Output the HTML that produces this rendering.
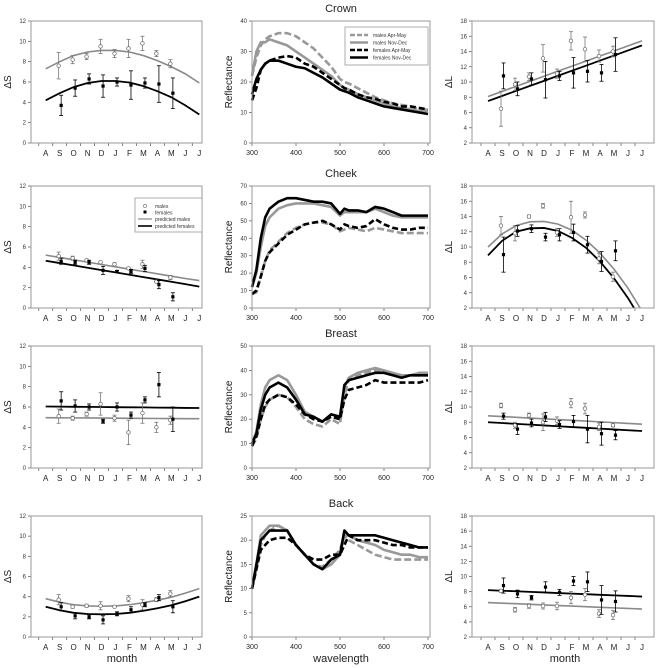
<!DOCTYPE html>
<html><head><meta charset="utf-8"><style>
html,body{margin:0;padding:0;background:#fff;}
svg{display:block;font-family:"Liberation Sans",sans-serif;}
</style></head><body>
<svg id="fig" width="661" height="669" viewBox="0 0 661 669" xmlns="http://www.w3.org/2000/svg"></svg>
<script>
const months = ["A","S","O","N","D","J","F","M","A","M","J","J"];
const obsIdx = [1,2,3,4,5,6,7,8,9];
const wl = [300,310,320,330,340,360,380,400,420,440,460,480,500,510,520,540,560,580,600,620,640,660,680,700];

// Delta S panels (left column)
const crownSMale = [7.6,8.2,8.5,9.5,8.8,9.3,9.8,8.8,7.8];
const crownSMaleErr = [1.3,0.4,0.3,0.7,0.4,0.9,0.7,0.3,0.4];
const crownSFem = [3.7,5.4,6.3,5.6,6.0,5.7,5.9,5.8,4.9];
const crownSFemErr = [1.0,0.8,0.5,1.1,0.4,1.4,0.5,1.8,1.5];
const crownSMaleFit = [7.3,8.0,8.6,8.95,9.1,9.1,8.95,8.6,8.1,7.5,6.8,5.9];
const crownSFemFit = [4.2,4.9,5.5,5.9,6.1,6.1,5.95,5.6,5.1,4.5,3.7,2.8];

const cheekSMale = [5.1,4.9,4.7,4.5,4.3,3.9,4.3,2.6,3.0];
const cheekSMaleErr = [0.4,0.2,0.1,0.1,0.15,0.1,0.4,0.1,0.2];
const cheekSFem = [4.6,4.5,4.5,3.7,3.6,3.6,3.9,2.3,1.1];
const cheekSFemErr = [0.3,0.2,0.2,0.4,0.1,0.2,0.3,0.4,0.4];
const cheekSMaleFit = [5.2,4.97,4.74,4.51,4.28,4.05,3.82,3.59,3.36,3.13,2.9,2.7];
const cheekSFemFit = [4.65,4.42,4.19,3.96,3.73,3.5,3.27,3.04,2.81,2.58,2.35,2.1];

const breastSMale = [5.1,4.9,5.3,6.3,4.9,3.5,5.4,4.0,4.7];
const breastSMaleErr = [0.7,0.2,0.2,1.1,0.3,1.2,1.0,0.5,0.4];
const breastSFem = [6.6,6.1,6.0,4.6,6.0,5.2,6.7,8.2,4.8];
const breastSFemErr = [0.9,0.6,0.3,0.2,0.4,0.3,0.3,1.2,1.2];
const breastSMaleFit = [4.95,4.94,4.93,4.92,4.91,4.9,4.89,4.88,4.87,4.86,4.85,4.85];
const breastSFemFit = [6.05,6.04,6.02,6.01,6.0,5.98,5.97,5.96,5.94,5.93,5.91,5.9];

const backSMale = [3.7,3.0,3.1,3.1,3.0,3.8,3.2,3.7,4.3];
const backSMaleErr = [0.5,0.15,0.15,0.4,0.1,0.3,0.5,0.2,0.3];
const backSFem = [3.0,2.1,2.0,1.7,2.3,2.7,3.2,3.9,3.0];
const backSFemErr = [0.4,0.3,0.2,0.4,0.2,0.3,0.2,0.3,0.6];
const backSMaleFit = [3.8,3.45,3.2,3.08,3.05,3.08,3.2,3.4,3.65,3.95,4.35,4.8];
const backSFemFit = [3.0,2.65,2.4,2.28,2.25,2.28,2.4,2.6,2.85,3.15,3.55,4.0];

// Delta L panels (right column)
const crownLMale = [6.5,9.7,10.7,13.1,11.1,15.4,14.3,13.4,14.0];
const crownLMaleErr = [2.3,0.8,0.5,1.8,0.6,1.2,1.6,0.8,0.7];
const crownLFem = [10.8,9.1,10.4,10.3,10.8,11.2,11.4,11.2,13.6];
const crownLFemErr = [1.7,0.9,0.8,2.4,0.6,2.0,1.4,1.1,2.2];
const crownLMaleFit = [8.1,8.76,9.43,10.09,10.75,11.42,12.08,12.74,13.41,14.07,14.74,15.4];
const crownLFemFit = [7.5,8.16,8.83,9.49,10.15,10.82,11.48,12.14,12.81,13.47,14.14,14.8];

const cheekLMale = [12.8,11.8,14.0,15.4,11.9,13.9,14.2,8.5,6.1];
const cheekLMaleErr = [1.2,1.0,0.2,0.3,0.5,2.1,0.4,0.7,0.6];
const cheekLFem = [9.0,12.1,12.4,11.3,11.6,11.9,10.3,8.1,9.5];
const cheekLFemErr = [2.3,0.7,0.5,0.5,0.8,1.1,1.1,1.3,1.3];
const cheekLMaleFit = [10.0,11.7,12.8,13.3,13.35,13.0,12.2,10.9,9.2,7.1,4.6,1.6];
const cheekLFemFit = [8.9,10.8,12.0,12.45,12.5,12.1,11.2,9.9,8.1,5.9,3.3,0.3];

const breastLMale = [10.2,7.6,8.9,8.0,8.2,10.5,9.8,7.4,7.6];
const breastLMaleErr = [0.3,0.4,0.3,1.1,0.5,0.6,0.7,0.5,0.2];
const breastLFem = [8.8,7.1,7.9,8.7,7.7,8.1,7.1,6.5,6.3];
const breastLFemErr = [0.4,0.7,0.5,0.6,0.5,0.8,1.8,1.5,0.6];
const breastLMaleFit = [8.85,8.75,8.65,8.55,8.45,8.35,8.25,8.15,8.05,7.95,7.85,7.75];
const breastLFemFit = [8.0,7.9,7.79,7.69,7.58,7.48,7.37,7.27,7.16,7.06,6.95,6.85];

const backLMale = [8.1,5.6,6.1,6.1,6.1,7.2,7.6,5.1,4.9];
const backLMaleErr = [0.2,0.3,0.3,0.4,0.5,0.8,0.8,0.5,0.6];
const backLFem = [8.8,7.7,7.2,8.6,7.9,9.4,9.3,6.9,6.7];
const backLFemErr = [1.0,0.5,0.3,0.7,0.4,0.6,1.3,1.9,1.4];
const backLMaleFit = [6.55,6.47,6.4,6.32,6.24,6.16,6.09,6.01,5.93,5.85,5.78,5.7];
const backLFemFit = [8.2,8.12,8.05,7.97,7.89,7.81,7.74,7.66,7.58,7.5,7.43,7.35];

// Reflectance spectra
const crownMA = [22,28,32,34,35,36,36,35,33,31,28,25,21,20,19.5,18,16.5,15,14,13,12.5,12,11,11];
const crownMN = [22,30,33,33,34,33,32,30,28,26,24,22,19,18,17.5,16,15,14,13,12,11.5,11,10.5,10.5];
const crownFA = [14,18,24,26,27,28,28.5,28,26,25,23,21,19,18,17.5,16,15,14.5,13.5,13,12,12,11.5,11];
const crownFN = [16,21,24,26,27,27,26,25,24.5,23,21.5,19.5,17.5,17,16.5,15,14,13,12,11.5,11,10.5,10,9.5];

const cheekMA = [8,9,18,27,33,38,43,46,48,49,49,48,44,45,46,45,44,46,45,44,43,43,43,43];
const cheekMN = [12,20,35,47,52,57,59,60,60,60,59,58,53,55,55,55,55,57,55,53,52,52,52,52];
const cheekFA = [8,10,18,27,32,37,42,45,48,49,50,48,45,48,47,46,47,51,48,46,45,45,46,46];
const cheekFN = [12,22,40,52,57,61,63,63,62,61,61,60,54,57,56,56,55,58,57,55,53,53,53,53];

const breastMA = [9,12,20,25,28,30,29,25,20,18,17,20,18,30,36,38,39,40,39,38,38,38,38,38];
const breastMN = [10,15,26,33,36,38,36,30,23,21,19,22,21,33,37,39,40,41,40,39,38,38,39,39];
const breastFA = [9,13,20,26,28,30,29,26,22,20,19,21,20,28,32,33,34,36,35,35,35,35,35,36];
const breastFN = [10,14,24,30,33,35,33,28,22,21,19,22,21,34,36,37,38,39,39,38,37,38,38,38];

const backMA = [10,14,19,21,22,23,22,19,17,15,14.5,16,18,21,20,19,18,17,16.5,16,16,16,16,16];
const backMN = [10,15,21,22,23,23,22,19,17,15,14,15,17,21,21,20,19.5,19,18,17.5,17,17,16.5,16.5];
const backFA = [10,14,18,19,20,20.5,20.5,19,17,16,16,17,17,19,21,20,20,20,19.5,19,19,18.5,18.5,18.5];
const backFN = [10,15,20,21,22,22,22,19,17,15,14,16,17,22,21,21,21,21,20.5,20,19.5,19,18.5,18.5];

const NS = "http://www.w3.org/2000/svg";
const svg = document.getElementById("fig");
let clipId = 0;
function el(tag, attrs, parent, text){
  const e = document.createElementNS(NS, tag);
  for (const k in attrs) e.setAttribute(k, attrs[k]);
  if (text !== undefined) e.textContent = text;
  (parent || svg).appendChild(e);
  return e;
}

const rows = [{t:21,b:143},{t:186,b:308},{t:346,b:468},{t:516,b:637}];

function frame(g, x0, x1, t, b){
  const r = el("rect", {x:x0, y:t, width:x1-x0, height:b-t, fill:"none", stroke:"#999", "stroke-width":1}, g);
  
  
}

function yTicks(g, x0, t, b, ymin, ymax, step){
  const ys = v => b - (v - ymin) / (ymax - ymin) * (b - t);
  for (let v = ymin; v <= ymax + 1e-9; v += step){
    el("line", {x1:x0-3, x2:x0, y1:ys(v), y2:ys(v), stroke:"#666", "stroke-width":0.8}, g);
    const tx = el("text", {x:x0-5, y:ys(v)+2, "font-size":6, "text-anchor":"end", fill:"#333"}, g, String(v));
    
    
  }
  return ys;
}

function monthPanel(name, x0, x1, mx0, mx1, row, ymin, ymax, step, ylab, male, maleErr, fem, femErr, maleFit, femFit){
  const g = el("g", {});
  
  
  const {t, b} = rows[row];
  const ys = yTicks(g, x0, t, b, ymin, ymax, step);
  const xs = i => mx0 + i * (mx1 - mx0) / 11;
  // x ticks and labels
  for (let i = 0; i < 12; i++){
    el("line", {x1:xs(i)-(mx1-mx0)/22, x2:xs(i)-(mx1-mx0)/22, y1:b, y2:b+3, stroke:"#666", "stroke-width":0.8}, g);
    const tx = el("text", {x:xs(i), y:b+13, "font-size":8, "text-anchor":"middle", fill:"#222"}, g, months[i]);
    
    
  }
  const yl = el("text", {x:0, y:0, "font-size":10, "text-anchor":"middle", fill:"#222",
     transform:`translate(${x0-20},${(t+b)/2}) rotate(-90)`}, g, ylab);
  
  
  const cid = "c" + (clipId++);
  const cp = el("clipPath", {id:cid}, g);
  el("rect", {x:x0, y:t, width:x1-x0, height:b-t}, cp);
  const cg = el("g", {"clip-path":`url(#${cid})`}, g);
  const fitLine = (arr, col, w, nm) => {
    const p = el("polyline", {points: arr.map((v,i)=>`${xs(i)},${ys(v)}`).join(" "), fill:"none", stroke:col, "stroke-width":w}, cg);
    
    
  };
  fitLine(maleFit, "#8a8a8a", 1.6, "predicted-males-line");
  fitLine(femFit, "#000", 1.8, "predicted-females-line");
  const pts = (vals, errs, off, female) => {
    vals.forEach((v, k) => {
      const x = xs(obsIdx[k]) + off, y = ys(v);
      const col = female ? "#000" : "#777";
      const e1 = ys(v + errs[k]), e2 = ys(v - errs[k]);
      el("line", {x1:x, x2:x, y1:e1, y2:e2, stroke:col, "stroke-width":0.8}, g);
      el("line", {x1:x-2, x2:x+2, y1:e1, y2:e1, stroke:col, "stroke-width":0.8}, g);
      el("line", {x1:x-2, x2:x+2, y1:e2, y2:e2, stroke:col, "stroke-width":0.8}, g);
      let m;
      if (female){
        m = el("rect", {x:x-1.6, y:y-1.6, width:3.2, height:3.2, fill:"#000"}, g);
        
      } else {
        m = el("circle", {cx:x, cy:y, r:1.8, fill:"#fff", stroke:"#666", "stroke-width":0.7}, g);
        
      }
      
    });
  };
  pts(male, maleErr, -1, false);
  pts(fem, femErr, 1.5, true);
  frame(g, x0, x1, t, b);
  return g;
}

function specPanel(name, row, ymax, step, series){
  const x0 = 252, x1 = 430;
  const g = el("g", {});
  
  
  const {t, b} = rows[row];
  const ys = yTicks(g, x0, t, b, 0, ymax, step);
  const xs = w => x0 + (w - 300) / 400 * 176;
  [300,400,500,600,700].forEach(w => {
    el("line", {x1:xs(w), x2:xs(w), y1:b, y2:b+3, stroke:"#666", "stroke-width":0.8}, g);
    const tx = el("text", {x:xs(w), y:b+12, "font-size":7, "text-anchor":"middle", fill:"#222"}, g, String(w));
    
    
  });
  const yl = el("text", {x:0, y:0, "font-size":10, "text-anchor":"middle", fill:"#222",
     transform:`translate(${x0-20},${(t+b)/2}) rotate(-90)`}, g, "Reflectance");
  
  
  const styles = [
    {col:"#999", dash:"7,3", nm:"males-apr-may-line"},
    {col:"#999", dash:"", nm:"males-nov-dec-line"},
    {col:"#000", dash:"6,3", nm:"females-apr-may-line"},
    {col:"#000", dash:"", nm:"females-nov-dec-line"}];
  series.forEach((arr, s) => {
    const st = styles[s];
    const p = el("polyline", {points: arr.map((v,i)=>`${xs(wl[i])},${ys(v)}`).join(" "), fill:"none",
      stroke:st.col, "stroke-width":2.6, "stroke-dasharray":st.dash, "stroke-linejoin":"round"}, g);
    
    
  });
  frame(g, x0, x1, t, b);
  return g;
}

monthPanel("crown-delta-s-panel", 31, 202, 45.7, 199.3, 0, 0, 12, 2, "ΔS", crownSMale, crownSMaleErr, crownSFem, crownSFemErr, crownSMaleFit, crownSFemFit);
monthPanel("cheek-delta-s-panel", 31, 202, 45.7, 199.3, 1, 0, 12, 2, "ΔS", cheekSMale, cheekSMaleErr, cheekSFem, cheekSFemErr, cheekSMaleFit, cheekSFemFit);
monthPanel("breast-delta-s-panel", 31, 202, 45.7, 199.3, 2, 0, 12, 2, "ΔS", breastSMale, breastSMaleErr, breastSFem, breastSFemErr, breastSMaleFit, breastSFemFit);
monthPanel("back-delta-s-panel", 31, 202, 45.7, 199.3, 3, 0, 12, 2, "ΔS", backSMale, backSMaleErr, backSFem, backSFemErr, backSMaleFit, backSFemFit);

monthPanel("crown-delta-l-panel", 472, 654, 488, 642, 0, 2, 18, 2, "ΔL", crownLMale, crownLMaleErr, crownLFem, crownLFemErr, crownLMaleFit, crownLFemFit);
monthPanel("cheek-delta-l-panel", 472, 654, 488, 642, 1, 2, 18, 2, "ΔL", cheekLMale, cheekLMaleErr, cheekLFem, cheekLFemErr, cheekLMaleFit, cheekLFemFit);
monthPanel("breast-delta-l-panel", 472, 654, 488, 642, 2, 2, 18, 2, "ΔL", breastLMale, breastLMaleErr, breastLFem, breastLFemErr, breastLMaleFit, breastLFemFit);
monthPanel("back-delta-l-panel", 472, 654, 488, 642, 3, 2, 18, 2, "ΔL", backLMale, backLMaleErr, backLFem, backLFemErr, backLMaleFit, backLFemFit);

specPanel("crown-spectrum-panel", 0, 40, 10, [crownMA, crownMN, crownFA, crownFN]);
specPanel("cheek-spectrum-panel", 1, 70, 10, [cheekMA, cheekMN, cheekFA, cheekFN]);
specPanel("breast-spectrum-panel", 2, 50, 10, [breastMA, breastMN, breastFA, breastFN]);
specPanel("back-spectrum-panel", 3, 25, 5, [backMA, backMN, backFA, backFN]);

// titles
[["Crown",12],["Cheek",177],["Breast",337],["Back",507]].forEach(([txt,y]) => {
  const t = el("text", {x:341, y:y, "font-size":11, "text-anchor":"middle", fill:"#222"}, svg, txt);
  
  
});
[["month",122],["wavelength",341],["month",565]].forEach(([txt,x]) => {
  const t = el("text", {x:x, y:662, "font-size":11, "text-anchor":"middle", fill:"#222"}, svg, txt);
  
  
});

// legend: spectra
const lg1 = el("g", {});


el("rect", {x:345, y:27, width:83, height:38, fill:"#fff", stroke:"#999", "stroke-width":0.8}, lg1);
[["males Apr-May","#999","5,2"],["males Nov-Dec","#999",""],["females Apr-May","#000","5,2"],["females Nov-Dec","#000",""]].forEach(([lab,col,d],i)=>{
  const y = 35 + i*7.5;
  el("line", {x1:350, x2:368, y1:y, y2:y, stroke:col, "stroke-width":2.4, "stroke-dasharray":d}, lg1);
  const t = el("text", {x:373, y:y+2, "font-size":5, fill:"#333"}, lg1, lab);
  
  
});
// legend: delta S
const lg2 = el("g", {});


el("rect", {x:135, y:198, width:67, height:34, fill:"#fff", stroke:"#999", "stroke-width":0.8}, lg2);
el("circle", {cx:145, cy:206, r:1.6, fill:"#fff", stroke:"#666", "stroke-width":0.6}, lg2);
el("rect", {x:143.5, y:210.5, width:3, height:3, fill:"#000"}, lg2);
el("line", {x1:138, x2:152, y1:219, y2:219, stroke:"#888", "stroke-width":1.2}, lg2);
el("line", {x1:138, x2:152, y1:226, y2:226, stroke:"#000", "stroke-width":1.6}, lg2);
[["males",206],["females",212.5],["predicted males",219],["predicted females",226]].forEach(([lab,y])=>{
  const t = el("text", {x:155, y:y+1.8, "font-size":5, fill:"#333"}, lg2, lab);
  
  
});
</script>
</body></html>
